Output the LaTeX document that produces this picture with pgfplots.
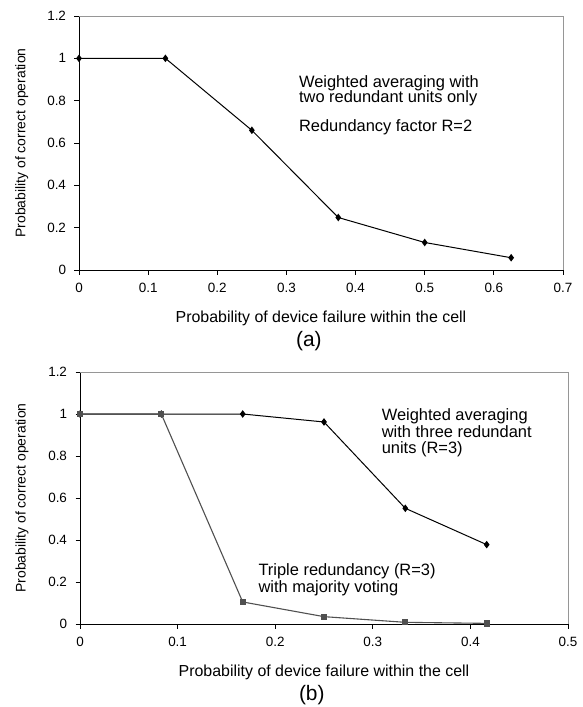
\documentclass[border=0pt]{standalone}
\usepackage{fontspec}
\setmainfont{Liberation Sans}
\usepackage{pgfplots}
\pgfplotsset{compat=1.18}

\definecolor{tgray}{RGB}{80,80,80}
\definecolor{frame}{RGB}{150,150,150}

\tikzset{note/.style={font=\fontsize{16.5}{17}\selectfont, anchor=base west, inner sep=0}}

\pgfplotsset{
  excel/.style={
    scale only axis,
    anchor=north west,
    xmin=0, ymin=0, ymax=1.2,
    ytick={0,0.2,0.4,0.6,0.8,1,1.2},
    axis x line*=bottom,
    axis y line*=left,
    axis line style={black, line width=1bp, -},
    tick align=outside,
    major tick length=4.5bp,
    tick style={black, line width=0.8bp},
    ticklabel style={font=\fontsize{13.5}{16}\selectfont},
    xticklabel style={yshift=-5bp},
    yticklabel style={xshift=-5bp},
    xlabel style={font=\fontsize{16}{18}\selectfont},
    ylabel style={font=\fontsize{14}{16}\selectfont},
    /pgf/number format/assume math mode=true,
    /pgf/number format/fixed,
    clip=false,
    ylabel={Probability of correct operation},
    xlabel={Probability of device failure within the cell},
  },
  wavg/.style={black, line width=1bp, mark=diamond*, mark size=3bp},
  tmr/.style={tgray, line width=1.1bp, mark=square*, mark size=2.6bp},
}

\begin{document}
\begin{tikzpicture}
\path[use as bounding box] (0bp,0bp) rectangle (583bp,-707bp);

% (a)
\begin{axis}[excel,
  at={(79bp,-16bp)}, width=484bp, height=254bp,
  xmax=0.7, xtick={0,0.1,0.2,0.3,0.4,0.5,0.6,0.7},
  xlabel style={at={(axis description cs:0.5,-0.189)}, anchor=center},
  ylabel style={at={(axis description cs:-0.118,0.5)}, anchor=center},
]
\addplot[wavg] coordinates {
  (0,1) (0.125,1) (0.25,0.66) (0.375,0.248) (0.5,0.13) (0.625,0.058)
};
\draw[frame, line width=0.8bp] (rel axis cs:0,1) -- (rel axis cs:1,1) -- (rel axis cs:1,0);
\node[note] at (axis cs:0.318,0.864) {Weighted averaging with};
\node[note] at (axis cs:0.318,0.789) {two redundant units only};
\node[note] at (axis cs:0.318,0.652) {Redundancy factor R=2};
\node[font=\fontsize{21}{24}\selectfont] at (axis description cs:0.475,-0.28) {(a)};
\end{axis}

% (b)
\begin{axis}[excel,
  at={(80bp,-372bp)}, width=488bp, height=252bp,
  xmax=0.5, xtick={0,0.1,0.2,0.3,0.4,0.5},
  xlabel style={at={(axis description cs:0.5,-0.19)}, anchor=center},
  ylabel style={at={(axis description cs:-0.119,0.5)}, anchor=center},
]
\addplot[wavg] coordinates {
  (0,1) (0.0833,1) (0.1667,1) (0.25,0.962) (0.3333,0.551) (0.4167,0.378)
};
\addplot[tmr] coordinates {
  (0,1) (0.0833,1) (0.1667,0.105) (0.25,0.035) (0.3333,0.008) (0.4167,0.003)
};
\draw[frame, line width=0.8bp] (rel axis cs:0,1) -- (rel axis cs:1,1) -- (rel axis cs:1,0);
\node[note] at (axis cs:0.309,0.968) {Weighted averaging};
\node[note] at (axis cs:0.309,0.889) {with three redundant};
\node[note] at (axis cs:0.309,0.810) {units (R=3)};
\node[note] at (axis cs:0.1827,0.229) {Triple redundancy (R=3)};
\node[note] at (axis cs:0.1827,0.152) {with majority voting};
\node[font=\fontsize{21}{24}\selectfont] at (axis description cs:0.475,-0.283) {(b)};
\end{axis}
\end{tikzpicture}
\end{document}
